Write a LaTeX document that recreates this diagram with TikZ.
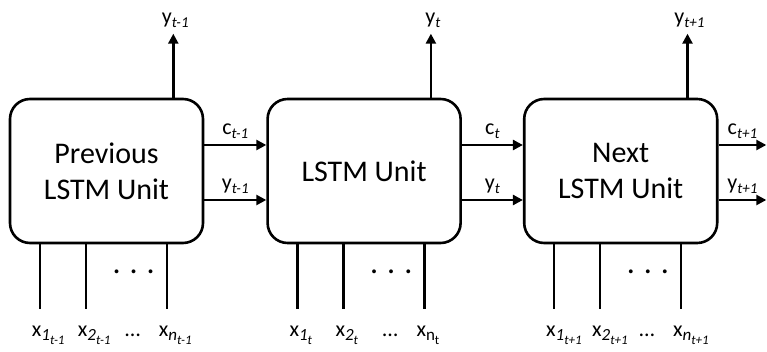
\documentclass[tikz,border=0pt]{standalone}
\usepackage{fontspec}
\setmainfont{Carlito}
\usetikzlibrary{arrows.meta,positioning,calc}
\newcommand{\lsub}[2]{#1\raisebox{-3.5pt}{\fontsize{15}{15}\selectfont\itshape #2}}
\newcommand{\xin}[2]{x\raisebox{-4.5pt}{\fontsize{17}{17}\selectfont\itshape #1\raisebox{-3.5pt}{\fontsize{13}{13}\selectfont #2}}}
\tikzset{
  unit/.style={draw, line width=2.6pt, rounded corners=20pt,
    minimum width=193pt, minimum height=144pt, inner sep=0pt,
    align=center, font=\fontsize{30}{36}\selectfont},
  flow/.style={line width=2.4pt, -{Triangle[length=10pt,width=10pt]}},
  feed/.style={line width=2.4pt},
  lbl/.style={inner sep=0pt, font=\fontsize{22}{26}\selectfont},
}

\begin{document}
\begin{tikzpicture}[x=1pt,y=-1pt]
  \useasboundingbox (0,0) rectangle (767,352);
  \node[unit] (prev) at (106.5,171) {Previous\\LSTM Unit};
  \node[unit, right=62pt of prev] (cur) {LSTM Unit};
  \node[unit, right=61pt of cur] (next) {Next\\LSTM Unit};
  \node[inner sep=0pt] (rim) at (767,171) {};
  \foreach \a/\b/\s/\n in {prev/cur/t-1/n, cur/next/t/\upshape n, next/rim/t+1/n}{
    \draw[flow] ($(\a.north east)+(-31,0)$) -- ++(0,-64);
    \node[lbl, anchor=base] (top-\a) at ($(\a.north east)+(-29,-74)$) {\lsub{y}{\s}};
    \draw[flow] ($(\a.east)+(0,-26)$) -- ($(\b.west)+(0,-26)$);
    \draw[flow] ($(\a.east)+(0,29)$) -- ($(\b.west)+(0,29)$);
    \node[lbl, anchor=base] (c-\a) at ($(\a.east)!0.5!(\b.west)+(0,-36)$) {\lsub{c}{\s}};
    \node[lbl, anchor=base] (h-\a) at ($(\a.east)!0.5!(\b.west)+(0,19)$) {\lsub{y}{\s}};
    \draw[feed] ($(\a.south west)+(31,0)$) -- ++(0,65)
      node[lbl, anchor=base west, xshift=-9pt, yshift=-27pt] {\xin{1}{\s}};
    \draw[feed] ($(\a.south west)+(77,0)$) -- ++(0,65)
      node[lbl, anchor=base west, xshift=-9pt, yshift=-27pt] {\xin{2}{\s}};
    \draw[feed] ($(\a.south west)+(158,0)$) -- ++(0,65)
      node[lbl, anchor=base west, xshift=-9pt, yshift=-27pt] {\xin{\n}{\s}};
    \node[lbl, font=\fontsize{32}{32}\selectfont] (dots-\a) at ($(\a.south west)+(125,28)$)
      {.\hspace{9pt}.\hspace{9pt}.};
    \node[lbl, anchor=base] (skip-\a) at ($(\a.south west)+(124,92)$) {\dots};
  }
\end{tikzpicture}
\end{document}
